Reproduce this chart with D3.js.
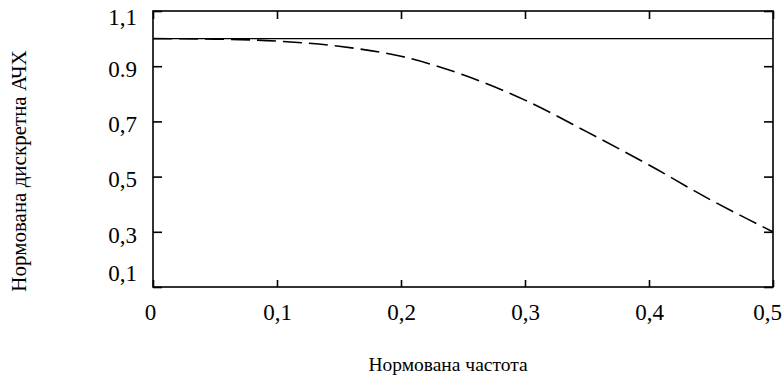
<!DOCTYPE html>
<html><head><meta charset="utf-8">
<script src="https://cdn.jsdelivr.net/npm/d3@7"></script>
<style>body{margin:0;background:#fff}svg{display:block}</style>
</head><body><svg id="c" width="782" height="377"></svg>
<script>
const freq = [0, 0.05, 0.1, 0.15, 0.2, 0.25, 0.3, 0.35, 0.4, 0.45, 0.48, 0.5];
const ideal = [1, 1, 1, 1, 1, 1, 1, 1, 1, 1, 1, 1];
const discrete = [1.0, 0.998, 0.991, 0.972, 0.936, 0.869, 0.777, 0.662, 0.542, 0.415, 0.345, 0.30];
const xTicks = [0, 0.1, 0.2, 0.3, 0.4, 0.5];
const xTickLabels = ["0", "0,1", "0,2", "0,3", "0,4", "0,5"];
const yTicks = [0.1, 0.3, 0.5, 0.7, 0.9, 1.1];
const yTickLabels = ["0,1", "0,3", "0,5", "0,7", "0.9", "1,1"];
const xTitle = "Нормована частота";
const yTitle = "Нормована дискретна АЧХ";

const FONT = "'Liberation Serif', 'DejaVu Serif', serif";
const svg = d3.select("#c");
const L = 153, R = 773, T = 11, B = 287;
const x = d3.scaleLinear().domain([0, 0.5]).range([L, R]);
const y = d3.scaleLinear().domain([0.1, 1.1]).range([B, T]);

svg.append("rect").attr("x", L).attr("y", T).attr("width", R - L).attr("height", B - T)
  .attr("fill", "none").attr("stroke", "#000").attr("stroke-width", 1.6);

const fs = 23;
function styleAxis(g) {
  g.select(".domain").remove();
  g.attr("font-family", FONT).style("font-family", FONT);
  g.selectAll("line").attr("stroke", "#000").attr("stroke-width", 1.6);
  g.selectAll("text").style("font-family", FONT).attr("font-size", fs).attr("fill", "#000");
}

const gB = svg.append("g").attr("transform", `translate(0,${B})`)
  .call(d3.axisBottom(x).tickValues(xTicks).tickSize(-7).tickPadding(17)
    .tickFormat((d, i) => xTickLabels[i]));
styleAxis(gB);
gB.selectAll("text").attr("dx", (d, i) => i === xTicks.length - 1 ? -6 : (i === 0 ? -3 : 0));

const gT = svg.append("g").attr("transform", `translate(0,${T})`)
  .call(d3.axisTop(x).tickValues(xTicks).tickSize(-8).tickFormat(""));
styleAxis(gT);

const gL = svg.append("g").attr("transform", `translate(${L},0)`)
  .call(d3.axisLeft(y).tickValues(yTicks).tickSize(-9).tickPadding(16)
    .tickFormat((d, i) => yTickLabels[i]));
styleAxis(gL);
gL.selectAll("text")
  .attr("dy", (d, i) => i === 0 ? "-0.28em" : (i === yTicks.length - 1 ? "0.59em" : "0.45em"));

const gR = svg.append("g").attr("transform", `translate(${R},0)`)
  .call(d3.axisRight(y).tickValues(yTicks).tickSize(-9).tickFormat(""));
styleAxis(gR);

const line = d3.line().x((d, i) => x(freq[i])).y(d => y(d));
svg.append("path").datum(ideal).attr("d", line).attr("fill", "none")
  .attr("stroke", "#000").attr("stroke-width", 1.2);
svg.append("path").datum(discrete).attr("d", line.curve(d3.curveMonotoneX)).attr("fill", "none")
  .attr("stroke", "#000").attr("stroke-width", 1.6).attr("stroke-dasharray", "19,7");

svg.append("text").attr("x", 448).attr("y", 371).attr("text-anchor", "middle")
  .style("font-family", FONT).attr("font-size", 19.5).text(xTitle);
svg.append("text").attr("transform", "translate(26,171) rotate(-90)").attr("text-anchor", "middle")
  .style("font-family", FONT).attr("font-size", 21).text(yTitle);
</script></body></html>
